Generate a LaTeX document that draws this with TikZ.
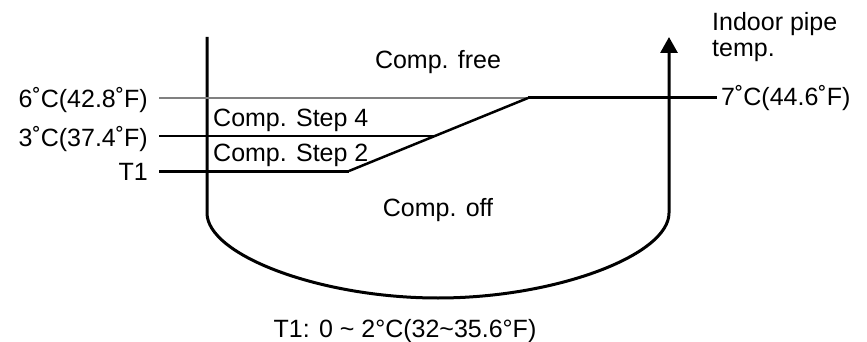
\documentclass[tikz,border=0pt]{standalone}
\usepackage{fontspec}
\setmainfont{Liberation Sans}
\usetikzlibrary{arrows.meta, positioning}

\begin{document}
\begin{tikzpicture}[
    x=1pt, y=-1pt,
    txt/.style={font=\fontsize{25}{26.5}\selectfont, inner sep=0pt, align=left},
    axis/.style={line width=3pt, -{Triangle[length=16pt, width=17pt]}},
    level/.style={line width=1.2pt},
    band/.style={line width=3pt},
    ramp/.style={line width=2.5pt}
]
    \useasboundingbox (0,0) rectangle (867,342);

    % Key points
    \coordinate (ltop) at (207,37);
    \coordinate (lbot) at (207,213);
    \coordinate (mid)  at (438,298);
    \coordinate (rbot) at (669,213);
    \coordinate (rtop) at (669,37);

    \coordinate (t1a) at (159,171);
    \coordinate (t1b) at (349,171);
    \coordinate (s3a) at (159,136);
    \coordinate (s3b) at (435,136);
    \coordinate (s6a) at (159,98);
    \coordinate (s6b) at (528,98);
    \coordinate (s7)  at (717,98);

    % Left labels
    \node [txt, anchor=east] (six)   at (148,100) {6˚C(42.8˚F)};
    \node [txt, anchor=east] (three) at (148,139) {3˚C(37.4˚F)};
    \node [txt, anchor=east] (tone)  at (148,172) {T1};

    % Zone labels
    \node [txt, anchor=base] (free)  at (438,69)  {Comp. free};
    \node [txt, anchor=base west] (step4) at (213,127) {Comp. Step 4};
    \node [txt, anchor=base west] (step2) at (213,161) {Comp. Step 2};
    \node [txt, anchor=base] (off)   at (438,216) {Comp. off};

    % Right labels
    \node [txt, anchor=west] (seven) at (721,98) {7˚C(44.6˚F)};
    \node [txt, anchor=base west] (pipe) at (712,57) {Indoor pipe\\temp.};
    \node [txt, anchor=base] (range) at (405,337) {T1: 0 \textasciitilde{} 2°C(32\textasciitilde35.6°F)};

    % Axis and bowl
    \draw [axis] (ltop) -- (lbot)
        .. controls (207,255) and (320,298) .. (mid)
        .. controls (556,298) and (669,255) .. (rbot) -- (rtop);

    % Levels
    \draw [level, gray] (s6a) -- (s6b);
    \draw [band] (s6b) -- (s7);
    \draw [level] (s3a) -- (s3b);
    \draw [band] (t1a) -- (t1b);
    \draw [ramp] (t1b) -- (s6b);

\end{tikzpicture}
\end{document}
